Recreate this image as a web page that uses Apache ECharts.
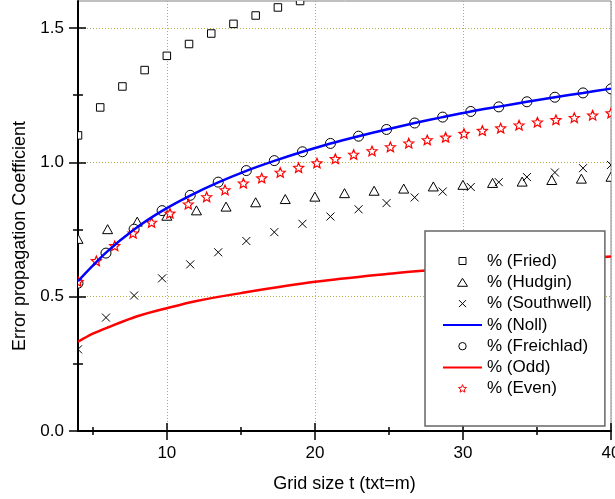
<!DOCTYPE html>
<html>
<head>
<meta charset="utf-8">
<script src="https://cdn.jsdelivr.net/npm/echarts@6/dist/echarts.min.js"></script>
<style>
html,body{margin:0;padding:0;background:#fff;}
#chart{width:615px;height:499px;}
</style>
</head>
<body>
<div id="chart"></div>
<script>
// ---- data ----
var friedT = [4, 5.5, 7, 8.5, 10, 11.5, 13, 14.5, 16, 17.5, 19];
var friedV = [1.10, 1.204, 1.282, 1.343, 1.396, 1.440, 1.479, 1.515, 1.546, 1.576, 1.600];

var hudginT = [4, 6, 8, 10, 12, 14, 16, 18, 20, 22, 24, 26, 28, 30, 32, 34, 36, 38, 40];
var hudginV = [0.715, 0.751, 0.779, 0.801, 0.821, 0.835, 0.851, 0.863, 0.872, 0.885, 0.894, 0.902, 0.910, 0.916, 0.923, 0.928, 0.934, 0.939, 0.946];

var grid20T = [4, 5.89, 7.79, 9.68, 11.58, 13.47, 15.37, 17.26, 19.16, 21.05, 22.95, 24.84, 26.74, 28.63, 30.53, 32.42, 34.32, 36.21, 38.11, 40];
var southwellV = [0.304, 0.422, 0.504, 0.568, 0.620, 0.665, 0.707, 0.740, 0.771, 0.798, 0.825, 0.848, 0.869, 0.891, 0.908, 0.926, 0.945, 0.962, 0.978, 0.990];
var freichladV = [0.550, 0.662, 0.751, 0.820, 0.877, 0.926, 0.969, 1.006, 1.039, 1.070, 1.097, 1.122, 1.146, 1.168, 1.189, 1.206, 1.225, 1.242, 1.258, 1.273];
var nollV = [0.558, 0.664, 0.750, 0.819, 0.876, 0.925, 0.968, 1.005, 1.039, 1.070, 1.097, 1.122, 1.146, 1.168, 1.189, 1.207, 1.225, 1.242, 1.258, 1.274];

var evenT = [4, 5.24, 6.48, 7.72, 8.97, 10.21, 11.45, 12.69, 13.93, 15.17, 16.41, 17.66, 18.9, 20.14, 21.38, 22.62, 23.86, 25.1, 26.34, 27.59, 28.83, 30.07, 31.31, 32.55, 33.79, 35.03, 36.28, 37.52, 38.76, 40];
var evenV = [0.556, 0.633, 0.689, 0.736, 0.776, 0.810, 0.844, 0.871, 0.897, 0.922, 0.941, 0.962, 0.980, 0.997, 1.013, 1.029, 1.042, 1.057, 1.071, 1.083, 1.093, 1.107, 1.118, 1.127, 1.138, 1.149, 1.158, 1.166, 1.175, 1.183];

var oddT = [4, 5, 6, 8, 10, 12, 15, 20, 25, 28, 32, 36, 40];
var oddV = [0.332, 0.362, 0.385, 0.427, 0.457, 0.484, 0.513, 0.555, 0.585, 0.600, 0.618, 0.634, 0.649];

var seriesNames = ['% (Fried)', '% (Hudgin)', '% (Southwell)', '% (Noll)', '% (Freichlad)', '% (Odd)', '% (Even)'];

var xMajorTicks = [10, 20, 30, 40];
var xMinorTicks = [5, 15, 25, 35];
var yMajorTicks = [0, 0.5, 1.0, 1.5];
var yMinorTicks = [0.25, 0.75, 1.25];

var xTitle = 'Grid size t (txt=m)';
var yTitle = 'Error propagation Coefficient';

// ---- build ----
function pairs(t, v) { return t.map(function (x, i) { return [x, v[i]]; }); }

var FONT = 'Liberation Sans, Arial, Helvetica, sans-serif';

// marker outlines (unit boxes)
var P_SQUARE = 'M0,0L10,0L10,10L0,10Z';
var P_TRI = 'M5,0L10,9L0,9Z';
var P_CROSS = 'M0,0L10,10M10,0L0,10';
var P_CIRCLE = 'M0,5A5,5,0,1,1,10,5A5,5,0,1,1,0,5Z';
var P_STAR = 'M10,0L12.645,6.359L19.511,6.91L14.28,11.391L15.878,18.09L10,14.5L4.122,18.09L5.72,11.391L0.489,6.91L7.355,6.359Z';

// legend icons (padded boxes so the icon sits smaller inside the legend slot)
var I_SQUARE = 'path://M0,0M10,10M1.5,1.5L8.5,1.5L8.5,8.5L1.5,8.5Z';
var I_TRI = 'path://M0,0M10,10M5,1L10,9L0,9Z';
var I_CROSS = 'path://M0,0M10,10M1.5,1.5L8.5,8.5M8.5,1.5L1.5,8.5';
var I_CIRCLE = 'path://M0,0M10,10M1.3,5A3.7,3.7,0,1,1,8.7,5A3.7,3.7,0,1,1,1.3,5Z';
var I_STAR = 'path://M-2,-2M22,22' + P_STAR;

function markerSeries(name, t, v, pathData, w, h, style) {
  return {
    name: name, type: 'custom', clip: true,
    data: pairs(t, v), encode: { x: 0, y: 1 },
    renderItem: function (params, api) {
      var p = api.coord([api.value(0), api.value(1)]);
      return {
        type: 'path',
        shape: { pathData: pathData, x: p[0] - w / 2, y: p[1] - h / 2, width: w, height: h, layout: 'cover' },
        style: style
      };
    }
  };
}

function tickAxis(values, len, inside, base) {
  return {
    type: 'value', min: base.min, max: base.max, position: base.position,
    axisLine: { show: false },
    axisLabel: { show: false },
    splitLine: { show: false },
    axisTick: { show: true, inside: inside, length: len, customValues: values, lineStyle: { color: '#000', width: 1.5 } }
  };
}

var xBase = { min: 4, max: 40, position: 'bottom' };
var yBase = { min: 0, max: 1.6, position: 'left' };
var gridLine = { show: true, lineStyle: { color: '#b0b04a', type: [1, 2], width: 1 } };

var hollowBlack = { fill: '#fff', stroke: '#000', lineWidth: 1 };

var option = {
  animation: false,
  backgroundColor: '#fff',
  grid: { left: 78, top: 1, width: 533, height: 430, show: true, borderColor: '#808080', borderWidth: 1,
    backgroundColor: 'transparent', outerBoundsMode: 'none', containLabel: false },
  xAxis: [
    {
      type: 'value', min: 4, max: 40, position: 'bottom',
      axisLine: { onZero: false, lineStyle: { color: '#000', width: 2 } },
      axisTick: { show: true, inside: false, length: 9, customValues: xMajorTicks, lineStyle: { color: '#000', width: 1.5 } },
      axisLabel: { customValues: xMajorTicks, color: '#000', fontSize: 17, fontFamily: FONT, margin: 14, hideOverlap: false },
      splitLine: gridLine,
      name: xTitle, nameLocation: 'middle', nameGap: 44,
      nameTextStyle: { color: '#000', fontSize: 18, fontFamily: FONT }
    },
    tickAxis(xMajorTicks, 8, true, xBase),
    tickAxis(xMinorTicks, 4, false, xBase),
    tickAxis(xMinorTicks, 4, true, xBase)
  ],
  yAxis: [
    {
      type: 'value', min: 0, max: 1.6, position: 'left',
      axisLine: { onZero: false, lineStyle: { color: '#000', width: 2 } },
      axisTick: { show: true, inside: false, length: 9, customValues: yMajorTicks, lineStyle: { color: '#000', width: 1.5 } },
      axisLabel: { customValues: yMajorTicks, color: '#000', fontSize: 17, fontFamily: FONT, margin: 14,
        formatter: function (v) { return Number(v).toFixed(1); } },
      splitLine: gridLine,
      name: yTitle, nameLocation: 'middle', nameGap: 43,
      nameTextStyle: { color: '#000', fontSize: 18, fontFamily: FONT, padding: [0, 40, 0, 0] }
    },
    tickAxis(yMajorTicks, 8, true, yBase),
    tickAxis(yMinorTicks, 5, false, yBase),
    tickAxis(yMinorTicks, 5, true, yBase)
  ],
  legend: {
    left: 425, top: 231, orient: 'vertical',
    itemWidth: 39, itemHeight: 10, itemGap: 4.3,
    padding: [21.5, 13, 28.7, 17],
    symbolKeepAspect: true,
    backgroundColor: '#fff', borderColor: '#666', borderWidth: 1.5, borderRadius: 0,
    textStyle: { color: '#000', fontSize: 17, fontFamily: FONT },
    data: [
      { name: seriesNames[0], icon: I_SQUARE, itemStyle: { color: '#fff', borderColor: '#000', borderWidth: 1 } },
      { name: seriesNames[1], icon: I_TRI, itemStyle: { color: '#fff', borderColor: '#000', borderWidth: 1 } },
      { name: seriesNames[2], icon: I_CROSS, itemStyle: { color: 'rgba(0,0,0,0)', borderColor: '#000', borderWidth: 1 } },
      { name: seriesNames[3], itemStyle: { opacity: 0 } },
      { name: seriesNames[4], icon: I_CIRCLE, itemStyle: { color: '#fff', borderColor: '#000', borderWidth: 1 } },
      { name: seriesNames[5], itemStyle: { opacity: 0 } },
      { name: seriesNames[6], icon: I_STAR, itemStyle: { color: '#fff', borderColor: '#ff0000', borderWidth: 1 } }
    ]
  },
  series: [
    markerSeries(seriesNames[0], friedT, friedV, P_SQUARE, 7.5, 7.5, hollowBlack),
    markerSeries(seriesNames[1], hudginT, hudginV, P_TRI, 10, 9, hollowBlack),
    markerSeries(seriesNames[2], grid20T, southwellV, P_CROSS, 8, 8, { fill: 'none', stroke: '#000', lineWidth: 1 }),
    { name: seriesNames[3], type: 'line', data: pairs(grid20T, nollV), smooth: 0.3, symbol: 'none', showSymbol: false,
      lineStyle: { color: '#0000ff', width: 2.5 }, itemStyle: { color: '#0000ff' } },
    markerSeries(seriesNames[4], grid20T, freichladV, P_CIRCLE, 10, 10, hollowBlack),
    { name: seriesNames[5], type: 'line', data: pairs(oddT, oddV), smooth: 0.3, symbol: 'none', showSymbol: false,
      lineStyle: { color: '#ff0000', width: 2.5 }, itemStyle: { color: '#ff0000' } },
    markerSeries(seriesNames[6], evenT, evenV, P_STAR, 10, 9.5, { fill: '#fff', stroke: '#ff0000', lineWidth: 1.2 })
  ]
};

var chart = echarts.init(document.getElementById('chart'), null, { renderer: 'canvas' });
chart.setOption(option);
</script>
</body>
</html>
